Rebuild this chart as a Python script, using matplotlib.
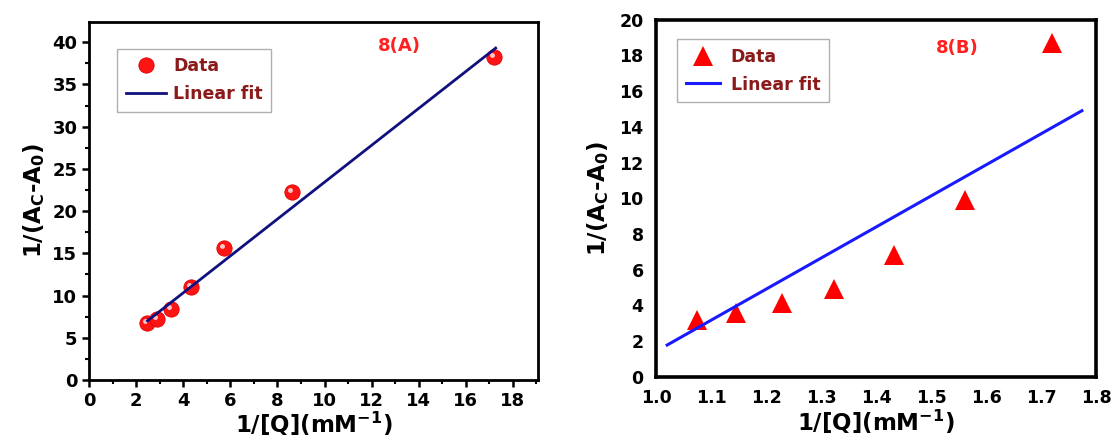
import numpy as np
import matplotlib
matplotlib.use("Agg")
import matplotlib.pyplot as plt
from matplotlib.ticker import MultipleLocator
from matplotlib.transforms import ScaledTranslation

plt.rcParams['font.family'] = ['DejaVu Sans']
plt.rcParams['font.weight'] = 'bold'
plt.rcParams['axes.labelweight'] = 'bold'
plt.rcParams['mathtext.fontset'] = 'custom'
plt.rcParams['mathtext.rm'] = 'DejaVu Sans:bold'
plt.rcParams['mathtext.it'] = 'DejaVu Sans:bold'
plt.rcParams['mathtext.bf'] = 'DejaVu Sans:bold'
plt.rcParams['mathtext.default'] = 'rm'

# panel A data
xa = [2.45, 2.89, 3.47, 4.31, 5.75, 8.62, 17.2]
ya = [6.7, 7.2, 8.35, 10.96, 15.6, 22.3, 38.3]
fit_xa = [2.48, 17.27]
fit_ya = [7.0, 39.3]

# panel B data
xb = [1.075, 1.146, 1.228, 1.323, 1.433, 1.562, 1.720]
yb = [3.2, 3.6, 4.15, 4.93, 6.8, 9.9, 18.7]
fit_xb = [1.020, 1.774]
fit_yb = [1.78, 14.9]

xlabel = r'1/[Q](mM$^{\mathrm{-1}}$)'
ylabel = r'1/(A$_{\mathrm{C}}$-A$_{\mathrm{0}}$)'
legend_color = '#8b1a1a'
tick_fs = 13
label_fs = 16.5

fig = plt.figure(figsize=(11.14, 4.47), dpi=100)
ax1 = fig.add_axes([0.080, 0.150, 0.403, 0.801])
ax2 = fig.add_axes([0.589, 0.157, 0.395, 0.799])

# --- panel A ---
ax1.plot(xa, ya, 'o', color='#ff1414', markersize=11, markeredgecolor='#e00000',
         markeredgewidth=0.6, label='Data', zorder=3)
# small highlight to mimic the shaded balls
hl = ax1.transData + ScaledTranslation(-2 / 100, 2 / 100, fig.dpi_scale_trans)
ax1.plot(xa, ya, 'o', color='#ffc8c8', markersize=3.5, markeredgewidth=0,
         transform=hl, zorder=4)
ax1.plot(fit_xa, fit_ya, '-', color='#10107f', lw=2, label='Linear fit', zorder=5)
ax1.set_xlim(0, 19.07)
ax1.set_ylim(0, 42.4)
ax1.xaxis.set_major_locator(MultipleLocator(2))
ax1.xaxis.set_minor_locator(MultipleLocator(1))
ax1.yaxis.set_major_locator(MultipleLocator(5))
ax1.yaxis.set_minor_locator(MultipleLocator(2.5))
ax1.tick_params(which='major', direction='out', length=5, width=1.8, labelsize=tick_fs)
ax1.tick_params(which='minor', direction='out', length=3, width=1.5)
for s in ax1.spines.values():
    s.set_linewidth(2)
for t in ax1.get_xticklabels() + ax1.get_yticklabels():
    t.set_fontweight('bold')
ax1.set_xlabel(xlabel, fontsize=label_fs, fontweight='bold', labelpad=0)
ax1.set_ylabel(ylabel, fontsize=label_fs, fontweight='bold', labelpad=4)
ax1.text(13.2, 39.6, '8(A)', color='#ff2020', fontsize=13, fontweight='bold',
         ha='center', va='center')
leg1 = ax1.legend(loc='upper left', bbox_to_anchor=(0.063, 0.925),
                  prop={'size': 12.5, 'weight': 'bold'},
                  fancybox=False, edgecolor='#b0b0b0', framealpha=1,
                  handlelength=2.3, handletextpad=0.4, borderpad=0.5, labelspacing=0.55,
                  borderaxespad=0)
for t in leg1.get_texts():
    t.set_color(legend_color)

# --- panel B ---
ax2.plot(xb, yb, '^', color='#ff0000', markersize=14, markeredgewidth=0, label='Data', zorder=3)
ax2.plot(fit_xb, fit_yb, '-', color='#1a1aff', lw=2.2, label='Linear fit', zorder=4)
ax2.set_xlim(1.0, 1.8)
ax2.set_ylim(0, 20)
ax2.yaxis.set_major_locator(MultipleLocator(2))
ax2.set_xticks(np.arange(1.0, 1.81, 0.1))
ax2.set_xticklabels(['%.1f' % v for v in np.arange(1.0, 1.81, 0.1)])
ax2.tick_params(which='major', length=0, pad=9, labelsize=12.5)
for s in ax2.spines.values():
    s.set_linewidth(2.6)
for t in ax2.get_xticklabels() + ax2.get_yticklabels():
    t.set_fontweight('bold')
ax2.set_xlabel(xlabel, fontsize=label_fs, fontweight='bold', labelpad=0)
ax2.set_ylabel(ylabel, fontsize=label_fs, fontweight='bold', labelpad=6)
ax2.text(1.548, 18.4, '8(B)', color='#ff2020', fontsize=13, fontweight='bold',
         ha='center', va='center')
leg2 = ax2.legend(loc='upper left', bbox_to_anchor=(0.047, 0.945),
                  prop={'size': 12.5, 'weight': 'bold'},
                  fancybox=False, edgecolor='#b0b0b0', framealpha=1,
                  handlelength=2.0, handletextpad=0.6, borderpad=0.5, labelspacing=0.55,
                  borderaxespad=0)
for t in leg2.get_texts():
    t.set_color(legend_color)

fig.savefig('out.png', dpi=100)
